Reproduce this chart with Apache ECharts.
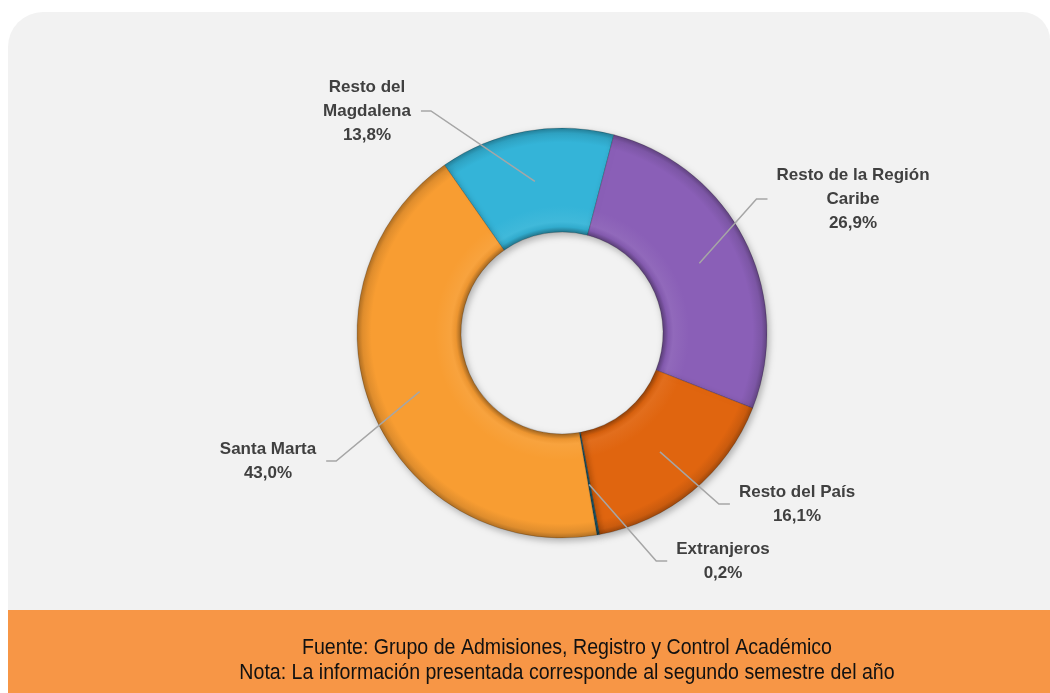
<!DOCTYPE html>
<html>
<head>
<meta charset="utf-8">
<title>Procedencia de estudiantes</title>
<script src="https://cdn.jsdelivr.net/npm/echarts@6/dist/echarts.min.js"></script>
<style>
  html, body { margin: 0; padding: 0; background: #ffffff; }
  #chart { width: 1050px; height: 693px; }
</style>
</head>
<body>
<div id="chart"></div>
<script>
// datos
const categories = ['Resto del\nMagdalena', 'Resto de la Región\nCaribe', 'Resto del País', 'Extranjeros', 'Santa Marta'];
const shares = [13.8, 26.9, 16.1, 0.2, 43.0];
const sliceColors = ['#34b4d8', '#8a5fb7', '#e0650f', '#1f5d6e', '#f89d32'];
const footerLines = [
  'Fuente: Grupo de Admisiones, Registro y Control Académico',
  'Nota: La información presentada corresponde al segundo semestre del año'
];

// centro de cada etiqueta (x, y)
const labelSpots = [[367, 111], [853, 199], [797, 504], [723, 561], [268, 461]];

const CX = 562, CY = 333, R_IN = 101, R_OUT = 205;

// k > 0 aclara, k < 0 oscurece
function tone(hex, k) {
  var n = parseInt(hex.slice(1), 16);
  var rgb = [(n >> 16) & 255, (n >> 8) & 255, n & 255].map(function (c) {
    var v = k < 0 ? c * (1 + k) : c + (255 - c) * k;
    return Math.round(Math.max(0, Math.min(255, v)));
  });
  return 'rgb(' + rgb.join(',') + ')';
}

function ringShade(base) {
  var f = R_IN / R_OUT;
  return {
    type: 'radial', x: CX, y: CY, r: R_OUT, global: true,
    colorStops: [
      { offset: 0, color: tone(base, -0.35) },
      { offset: f, color: tone(base, -0.35) },
      { offset: f + 0.025, color: tone(base, -0.05) },
      { offset: f + 0.05, color: tone(base, 0.06) },
      { offset: 0.62, color: base },
      { offset: 0.93, color: base },
      { offset: 0.975, color: tone(base, -0.1) },
      { offset: 1, color: tone(base, -0.3) }
    ]
  };
}

const pieData = categories.map(function (name, i) {
  return { name: name, value: shares[i], itemStyle: { color: ringShade(sliceColors[i]) } };
});
const labelData = categories.map(function (name, i) {
  return { name: name, value: shares[i] };
});

var chart = echarts.init(document.getElementById('chart'));

var footerFont = '22px "Liberation Sans", Arial, sans-serif';

var option = {
  backgroundColor: '#ffffff',
  animation: false,
  graphic: [
    {
      type: 'rect', z: -10, silent: true,
      shape: { x: 8, y: 12, width: 1042, height: 600, r: [35, 28, 0, 0] },
      style: { fill: '#f2f2f2' }
    },
    {
      type: 'rect', z: -9, silent: true,
      shape: { x: 8, y: 610, width: 1042, height: 83 },
      style: { fill: '#f79646' }
    },
    {
      type: 'text', z: 10, silent: true, x: 567, y: 648, scaleX: 0.89,
      style: {
        text: footerLines[0], fill: '#111111', align: 'center', verticalAlign: 'middle',
        font: footerFont
      }
    },
    {
      type: 'text', z: 10, silent: true, x: 567, y: 673, scaleX: 0.89,
      style: {
        text: footerLines[1], fill: '#111111', align: 'center', verticalAlign: 'middle',
        font: footerFont
      }
    }
  ],
  series: [
    {
      type: 'pie',
      z: 1,
      center: [CX, CY],
      radius: [R_IN, R_OUT],
      startAngle: 125,
      clockwise: true,
      silent: true,
      label: { show: false },
      labelLine: { show: false },
      itemStyle: {
        borderColor: 'rgba(0,0,0,0.3)',
        borderWidth: 0.6,
        shadowBlur: 7,
        shadowOffsetX: 2,
        shadowOffsetY: 3,
        shadowColor: 'rgba(0,0,0,0.28)'
      },
      emphasis: { disabled: true },
      data: pieData
    },
    {
      // serie invisible solo para etiquetas y lineas guia
      type: 'pie',
      z: 5,
      center: [CX, CY],
      radius: [0, 154],
      startAngle: 125,
      clockwise: true,
      silent: true,
      avoidLabelOverlap: false,
      itemStyle: { color: 'transparent', borderWidth: 0 },
      emphasis: { disabled: true },
      label: {
        show: true,
        position: 'outside',
        color: '#404040',
        fontFamily: '"Liberation Sans", Arial, sans-serif',
        fontWeight: 'bold',
        fontSize: 17,
        lineHeight: 24,
        align: 'center',
        formatter: function (p) {
          return p.name + '\n' + p.value.toFixed(1).replace('.', ',') + '%';
        }
      },
      labelLine: {
        show: true,
        length: 20,
        length2: 10,
        lineStyle: { color: '#a6a6a6', width: 1.5 }
      },
      labelLayout: function (params) {
        var spot = labelSpots[params.dataIndex];
        var w = params.labelRect.width;
        var anchor = params.labelLinePoints ? params.labelLinePoints[0] : [CX, CY];
        var endX, elbowX;
        if (spot[0] < anchor[0]) {
          endX = spot[0] + w / 2 + 10;
          elbowX = endX + 10;
        } else {
          endX = spot[0] - w / 2 - 9;
          elbowX = endX - 11;
        }
        return {
          x: spot[0],
          y: spot[1],
          align: 'center',
          verticalAlign: 'middle',
          labelLinePoints: [anchor, [elbowX, spot[1]], [endX, spot[1]]]
        };
      },
      data: labelData
    }
  ]
};

chart.setOption(option);
</script>
</body>
</html>
